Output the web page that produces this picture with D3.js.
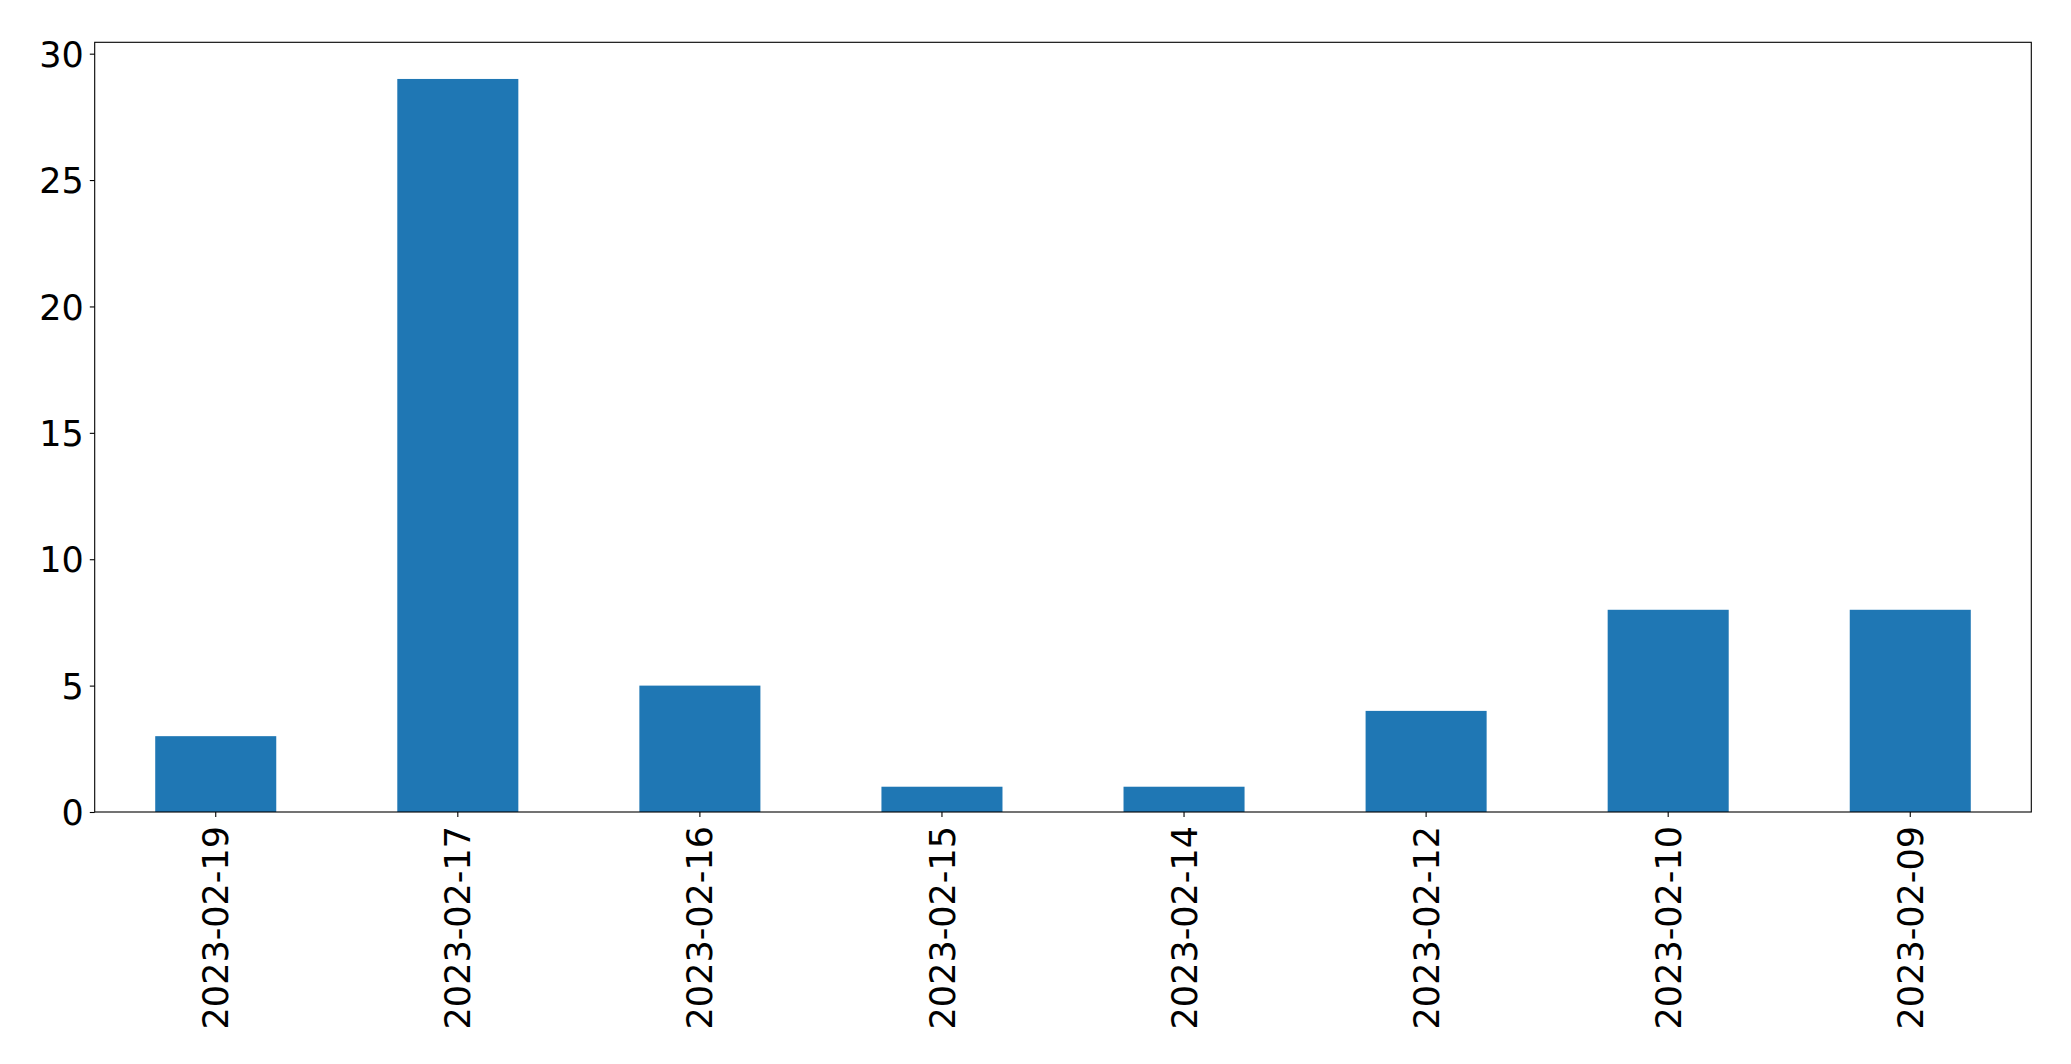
<!DOCTYPE html>
<html>
<head>
<meta charset="utf-8">
<script src="https://cdn.jsdelivr.net/npm/d3@7"></script>
<style>
  body { margin: 0; background: #fff; }
  svg { display: block; }
  text { font-family: "DejaVu Sans", sans-serif; fill: #000; }
</style>
</head>
<body>
<svg width="2071" height="1064"></svg>
<script>
var dates = ["2023-02-19", "2023-02-17", "2023-02-16", "2023-02-15",
             "2023-02-14", "2023-02-12", "2023-02-10", "2023-02-09"];
var counts = [3, 29, 5, 1, 1, 4, 8, 8];
var yTicks = [0, 5, 10, 15, 20, 25, 30];

var svg = d3.select("svg"),
    plotLeft = 94.7, plotRight = 2031.3, plotTop = 42.3, plotBottom = 812;

var x = d3.scaleBand()
    .domain(dates)
    .range([plotLeft, plotRight])
    .paddingInner(0.5)
    .paddingOuter(0.25);

var y = d3.scaleLinear()
    .domain([0, d3.max(counts) * 1.05])
    .range([plotBottom, plotTop]);

// bars
svg.append("g")
    .selectAll("rect")
    .data(counts)
    .enter().append("rect")
    .attr("x", function (d, i) { return x(dates[i]); })
    .attr("width", x.bandwidth())
    .attr("y", function (d) { return y(d); })
    .attr("height", function (d) { return plotBottom - y(d); })
    .attr("fill", "#1f77b4");

// y axis
var yAxis = svg.append("g")
    .attr("transform", "translate(" + plotLeft + ",0)")
    .call(d3.axisLeft(y).tickValues(yTicks).tickSize(4.9).tickPadding(6));
yAxis.select(".domain").remove();
yAxis.selectAll("line").attr("stroke", "#000").attr("stroke-width", 1.1);
yAxis.selectAll("text")
    .attr("font-size", "35px")
    .attr("font-family", "DejaVu Sans, sans-serif")
    .attr("dy", "0.36em");

// x axis
var xAxis = svg.append("g")
    .attr("transform", "translate(0," + plotBottom + ")")
    .call(d3.axisBottom(x).tickSize(4.9).tickPadding(0));
xAxis.select(".domain").remove();
xAxis.selectAll("line").attr("stroke", "#000").attr("stroke-width", 1.1);
xAxis.selectAll("text")
    .attr("font-size", "35px")
    .attr("font-family", "DejaVu Sans, sans-serif")
    .attr("text-anchor", "end")
    .attr("transform", "translate(0,14) rotate(-90)")
    .attr("x", 0)
    .attr("y", 0)
    .attr("dy", "0.36em");

// frame
svg.append("rect")
    .attr("x", plotLeft)
    .attr("y", plotTop)
    .attr("width", plotRight - plotLeft)
    .attr("height", plotBottom - plotTop)
    .attr("fill", "none")
    .attr("stroke", "#000")
    .attr("stroke-width", 1.1);
</script>
</body>
</html>
